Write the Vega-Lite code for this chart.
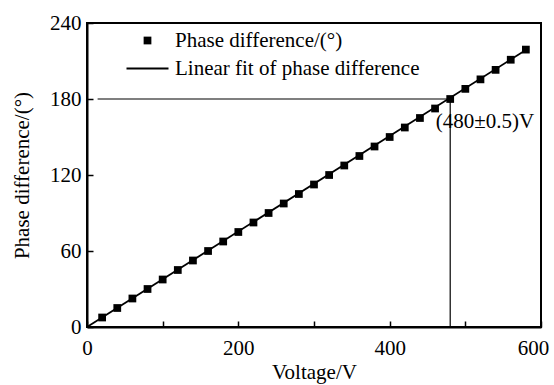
{
  "$schema": "https://vega.github.io/schema/vega-lite/v6.json",
  "autosize": "none",
  "width": 454,
  "height": 304,
  "padding": {"left": 87, "top": 23, "right": 13, "bottom": 58},
  "background": "white",
  "config": {
    "font": "Liberation Serif",
    "view": {"stroke": "black", "strokeWidth": 2},
    "axis": {"grid": false, "domainColor": "black", "domainWidth": 2, "tickColor": "black", "tickWidth": 1.5, "labelColor": "black", "titleColor": "black", "labelFont": "Liberation Serif", "titleFont": "Liberation Serif", "labelFontSize": 21, "titleFontSize": 21, "titleFontWeight": "normal"}
  },
  "datasets": {
    "pts": [
      {"v": 20, "p": 7.5}, {"v": 40, "p": 15}, {"v": 60, "p": 22.5}, {"v": 80, "p": 30},
      {"v": 100, "p": 37.5}, {"v": 120, "p": 45}, {"v": 140, "p": 52.5}, {"v": 160, "p": 60},
      {"v": 180, "p": 67.5}, {"v": 200, "p": 75}, {"v": 220, "p": 82.5}, {"v": 240, "p": 90},
      {"v": 260, "p": 97.5}, {"v": 280, "p": 105}, {"v": 300, "p": 112.5}, {"v": 320, "p": 120},
      {"v": 340, "p": 127.5}, {"v": 360, "p": 135}, {"v": 380, "p": 142.5}, {"v": 400, "p": 150},
      {"v": 420, "p": 157.5}, {"v": 440, "p": 165}, {"v": 460, "p": 172.5}, {"v": 480, "p": 180},
      {"v": 500, "p": 188}, {"v": 520, "p": 195.5}, {"v": 540, "p": 203}, {"v": 560, "p": 211}, {"v": 580, "p": 219}
    ],
    "fit": [{"v": 0, "p": 0}, {"v": 582, "p": 219.5}],
    "hrule": [{"x1": 14, "x2": 480, "y": 180}],
    "vrule": [{"x": 480, "y1": 0, "y2": 180}],
    "note": [{"x": 461, "y": 162, "t": "(480±0.5)V"}]
  },
  "layer": [
    {
      "data": {"name": "hrule"},
      "mark": {"type": "rule", "color": "black", "strokeWidth": 1.2},
      "encoding": {
        "x": {"field": "x1", "type": "quantitative", "scale": {"domain": [0, 600], "nice": false},
          "axis": {"title": "Voltage/V", "values": [0,50,100,150,200,250,300,350,400,450,500,550,600], "labelExpr": "datum.value % 200 === 0 ? datum.label : ''", "tickSize": {"condition": {"test": "datum.value % 100 === 0", "value": -6}, "value": -4}, "labelOffset": {"condition": {"test": "datum.value === 600", "value": -8}, "value": 0}, "labelPadding": 16, "titlePadding": 3, "labelFlush": false}},
        "x2": {"field": "x2"},
        "y": {"field": "y", "type": "quantitative", "scale": {"domain": [0, 240], "nice": false},
          "axis": {"title": "Phase difference/(°)", "values": [0,30,60,90,120,150,180,210,240], "labelExpr": "datum.value % 60 === 0 ? datum.label : ''", "tickSize": {"condition": {"test": "datum.value % 60 === 0", "value": -6}, "value": -4}, "labelPadding": 12, "titlePadding": 17, "labelFlush": false}}
      }
    },
    {
      "data": {"name": "vrule"},
      "mark": {"type": "rule", "color": "black", "strokeWidth": 1.2},
      "encoding": {
        "x": {"field": "x", "type": "quantitative"},
        "y": {"field": "y1", "type": "quantitative"},
        "y2": {"field": "y2"}
      }
    },
    {
      "data": {"name": "fit"},
      "mark": {"type": "line", "strokeWidth": 1.8},
      "encoding": {
        "x": {"field": "v", "type": "quantitative"},
        "y": {"field": "p", "type": "quantitative"},
        "color": {"datum": "Linear fit of phase difference", "type": "nominal",
          "scale": {"domain": ["Phase difference/(°)", "Linear fit of phase difference"], "range": ["black", "black"]},
          "legend": {"title": null, "orient": "none", "legendX": 50, "legendY": 7, "labelFontSize": 21, "labelFont": "Liberation Serif", "labelColor": "black", "labelLimit": 0, "rowPadding": 6, "labelOffset": 17, "symbolSize": 1764, "symbolStrokeWidth": 1.8,
            "encode": {"symbols": {"update": {
              "shape": {"signal": "datum.value === 'Phase difference/(°)' ? 'square' : 'stroke'"},
              "size": {"signal": "datum.value === 'Phase difference/(°)' ? 60 : 1764"},
              "fill": {"signal": "datum.value === 'Phase difference/(°)' ? 'black' : 'transparent'"},
              "stroke": {"value": "black"},
              "strokeWidth": {"signal": "datum.value === 'Phase difference/(°)' ? 0 : 1.8"}
            }}}}
        }
      }
    },
    {
      "data": {"name": "pts"},
      "mark": {"type": "point", "shape": "square", "filled": true, "size": 60, "opacity": 1},
      "encoding": {
        "x": {"field": "v", "type": "quantitative"},
        "y": {"field": "p", "type": "quantitative"},
        "color": {"datum": "Phase difference/(°)", "type": "nominal"}
      }
    },
    {
      "data": {"name": "note"},
      "mark": {"type": "text", "align": "left", "baseline": "middle", "fontSize": 21, "font": "Liberation Serif", "color": "black"},
      "encoding": {
        "x": {"field": "x", "type": "quantitative"},
        "y": {"field": "y", "type": "quantitative"},
        "text": {"field": "t"}
      }
    }
  ]
}
